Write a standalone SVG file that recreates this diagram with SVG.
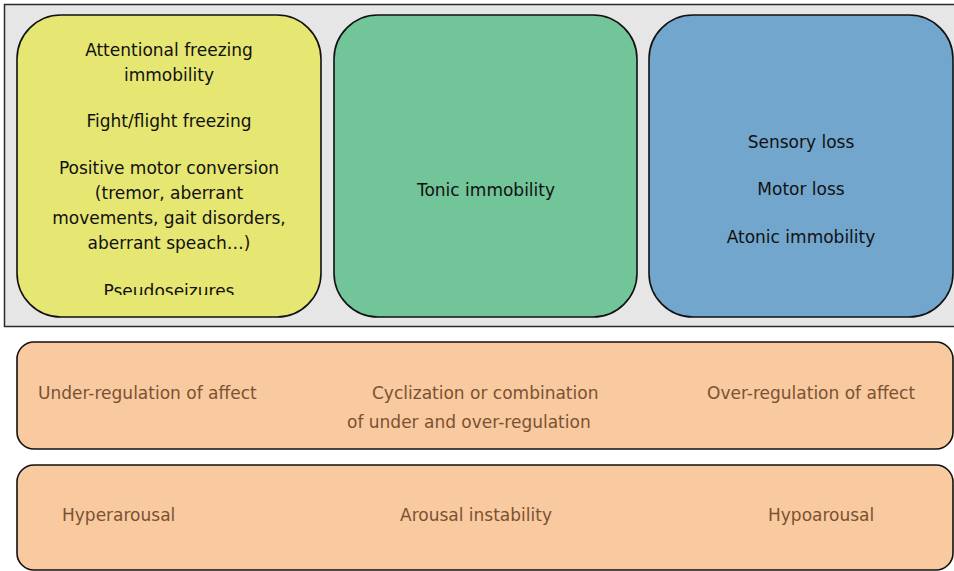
<svg xmlns="http://www.w3.org/2000/svg" width="954" height="571" viewBox="0 0 954 571">
  <style>
    .panel { fill: #e6e6e6; stroke: #2b2b2b; stroke-width: 1.5; }
    .node { stroke: #111; stroke-width: 1.6; }
    .lbl { font-family: "DejaVu Sans", "Liberation Sans", sans-serif; font-size: 17px; fill: #111; text-anchor: middle; }
    .band { fill: #f9c9a0; stroke: #111; stroke-width: 1.6; }
    .blbl { font-family: "DejaVu Sans", "Liberation Sans", sans-serif; font-size: 17px; fill: #7a5232; }
  </style>
  <defs>
    <clipPath id="yellowClip">
      <rect x="17" y="15" width="304" height="280"/>
    </clipPath>
  </defs>

  <rect class="panel" x="4.5" y="4.5" width="960" height="322"/>

  <g id="freezing">
    <rect class="node" x="17" y="15" width="304" height="302" rx="44" fill="#e6e672"/>
    <g class="lbl" clip-path="url(#yellowClip)">
      <text class="lbl" x="169" y="56">Attentional freezing</text>
      <text class="lbl" x="169" y="81">immobility</text>
      <text class="lbl" x="169" y="127">Fight/flight freezing</text>
      <text class="lbl" x="169" y="174">Positive motor conversion</text>
      <text class="lbl" x="169" y="199">(tremor, aberrant</text>
      <text class="lbl" x="169" y="224">movements, gait disorders,</text>
      <text class="lbl" x="169" y="249">aberrant speach…)</text>
      <text class="lbl" x="169" y="297">Pseudoseizures</text>
    </g>
  </g>

  <g id="tonic">
    <rect class="node" x="334" y="15" width="303" height="302" rx="44" fill="#72c499"/>
    <text class="lbl" x="486" y="196">Tonic immobility</text>
  </g>

  <g id="atonic">
    <rect class="node" x="649" y="15" width="304" height="302" rx="44" fill="#72a6cc"/>
    <text class="lbl" x="801" y="148">Sensory loss</text>
    <text class="lbl" x="801" y="195">Motor loss</text>
    <text class="lbl" x="801" y="243">Atonic immobility</text>
  </g>

  <g id="regulation">
    <rect class="band" x="17" y="342" width="936" height="107" rx="17"/>
    <text class="blbl" x="38" y="399">Under-regulation of affect</text>
    <text class="blbl" x="372" y="399">Cyclization or combination</text>
    <text class="blbl" x="347" y="428">of under and over-regulation</text>
    <text class="blbl" x="707" y="399">Over-regulation of affect</text>
  </g>

  <g id="arousal">
    <rect class="band" x="17" y="465" width="936" height="105" rx="17"/>
    <text class="blbl" x="62" y="521">Hyperarousal</text>
    <text class="blbl" x="400" y="521">Arousal instability</text>
    <text class="blbl" x="768" y="521">Hypoarousal</text>
  </g>

  <g id="connectors"/>
</svg>
